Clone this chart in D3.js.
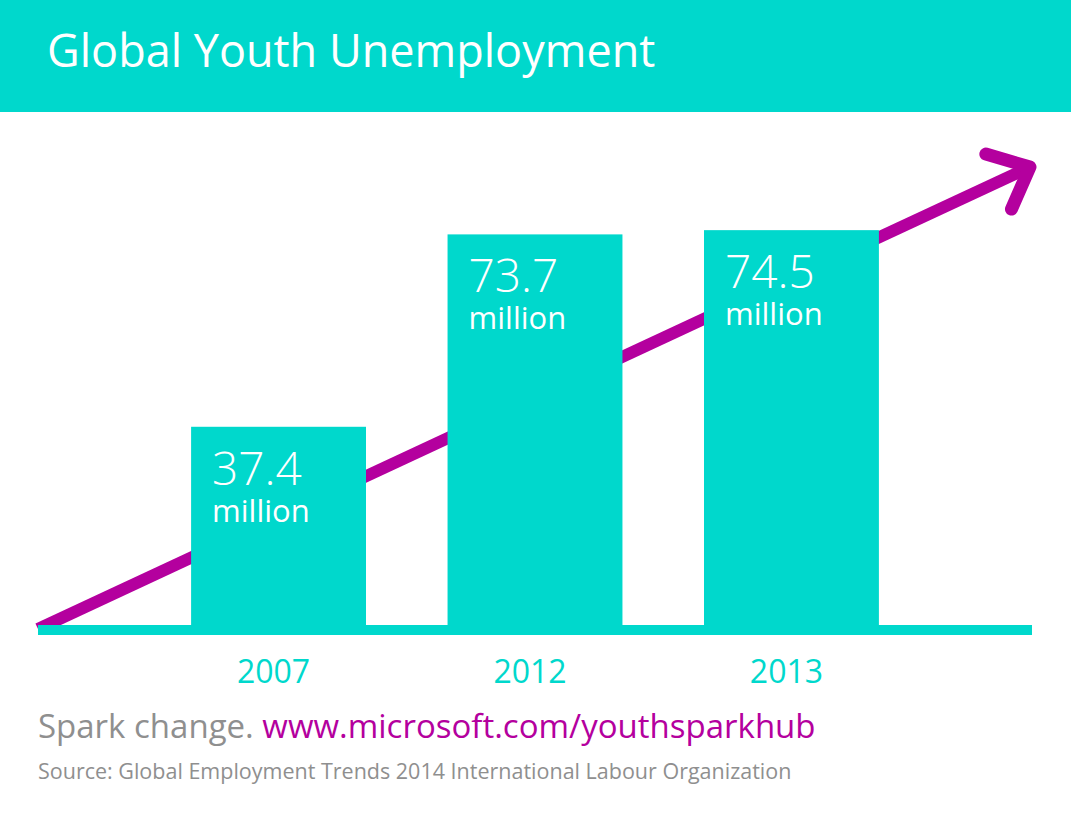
<!DOCTYPE html>
<html>
<head>
<meta charset="utf-8">
<script src="https://cdn.jsdelivr.net/npm/d3@7"></script>
<style>
  body { margin: 0; background: #fff; }
  svg text { font-family: "Open Sans", "Noto Sans", sans-serif; }
</style>
</head>
<body>
<svg id="chart" width="1071" height="820"></svg>
<script>
// Data
var years = ["2007", "2012", "2013"];
var unemployed = [37.4, 73.7, 74.5];   // millions
var unitLabel = "million";

var TITLE = "Global Youth Unemployment";
var SPARK = "Spark change. ";
var URL = "www.microsoft.com/youthsparkhub";
var SOURCE = "Source: Global Employment Trends 2014 International Labour Organization";

// Layout / style
var WIDTH = 1071, HEIGHT = 820;
var HEADER_HEIGHT = 112;
var PLOT_LEFT = 38, PLOT_RIGHT = 1032;
var BASELINE_Y = 625;
var BASELINE_THICKNESS = 10;
var PX_PER_MILLION = 5.3;
var TEAL = "#00d8cc";
var MAGENTA = "#b4009e";
var GRAY = "#8f8f8f";

var svg = d3.select("#chart");

// Header band
svg.append("rect")
    .attr("x", 0).attr("y", 0)
    .attr("width", WIDTH).attr("height", HEADER_HEIGHT)
    .attr("fill", TEAL);

svg.append("text")
    .attr("x", 47).attr("y", 67)
    .attr("fill", "#fff")
    .style("font-size", "45px")
    .text(TITLE);

// Scales
var xScale = d3.scaleBand()
    .domain(years)
    .range([PLOT_LEFT, PLOT_RIGHT])
    .paddingInner(0.318)
    .paddingOuter(0.597);

var yScale = d3.scaleLinear()
    .domain([0, 80])
    .range([BASELINE_Y, BASELINE_Y - 80 * PX_PER_MILLION]);

// Trend arrow (behind bars)
var arrowStart = [PLOT_LEFT, BASELINE_Y + 4];
var arrowTip = [PLOT_RIGHT - 2, 167];
var ang = Math.atan2(arrowTip[1] - arrowStart[1], arrowTip[0] - arrowStart[0]);
var headLen = 46, headAng = 0.72;

svg.append("line")
    .attr("x1", arrowStart[0]).attr("y1", arrowStart[1])
    .attr("x2", arrowTip[0] - 4 * Math.cos(ang)).attr("y2", arrowTip[1] - 4 * Math.sin(ang))
    .attr("stroke", MAGENTA)
    .attr("stroke-width", 12);

var head = [
    [arrowTip[0] - headLen * Math.cos(ang - headAng), arrowTip[1] - headLen * Math.sin(ang - headAng)],
    arrowTip,
    [arrowTip[0] - headLen * Math.cos(ang + headAng), arrowTip[1] - headLen * Math.sin(ang + headAng)]
];
svg.append("path")
    .attr("d", d3.line()(head))
    .attr("fill", "none")
    .attr("stroke", MAGENTA)
    .attr("stroke-width", 13)
    .attr("stroke-linecap", "round")
    .attr("stroke-linejoin", "round");

// Bars
svg.selectAll(".bar")
    .data(unemployed)
    .enter()
    .append("rect")
    .attr("class", "bar")
    .attr("x", (d, i) => xScale(years[i]))
    .attr("y", d => yScale(d))
    .attr("width", xScale.bandwidth())
    .attr("height", d => BASELINE_Y - yScale(d))
    .attr("fill", TEAL);

// Baseline
svg.append("rect")
    .attr("x", PLOT_LEFT).attr("y", BASELINE_Y)
    .attr("width", PLOT_RIGHT - PLOT_LEFT)
    .attr("height", BASELINE_THICKNESS)
    .attr("fill", TEAL);

// Value + unit labels inside bars
var labels = svg.selectAll(".value-label")
    .data(unemployed)
    .enter()
    .append("text")
    .attr("class", "value-label")
    .attr("x", (d, i) => xScale(years[i]) + 21)
    .attr("y", d => yScale(d) + 58)
    .attr("fill", "#fff");

labels.append("tspan")
    .style("font-size", "46px")
    .style("font-weight", 300)
    .text(d => d3.format(".1f")(d));

labels.append("tspan")
    .attr("x", (d, i) => xScale(years[i]) + 21)
    .attr("dy", 37)
    .style("font-size", "31px")
    .text(unitLabel);

// Year labels
svg.selectAll(".year-label")
    .data(years)
    .enter()
    .append("text")
    .attr("class", "year-label")
    .attr("x", d => xScale(d) + xScale.bandwidth() / 2 - 5)
    .attr("y", 683)
    .attr("text-anchor", "middle")
    .attr("fill", TEAL)
    .style("font-size", "32px")
    .text(d => d);

// Footer
var footer = svg.append("text")
    .attr("x", 38).attr("y", 738)
    .style("font-size", "33px");
footer.append("tspan").attr("fill", GRAY).text(SPARK);
footer.append("tspan").attr("fill", MAGENTA).text(URL);

svg.append("text")
    .attr("x", 38).attr("y", 779)
    .attr("fill", GRAY)
    .style("font-size", "21.5px")
    .text(SOURCE);
</script>
</body>
</html>
